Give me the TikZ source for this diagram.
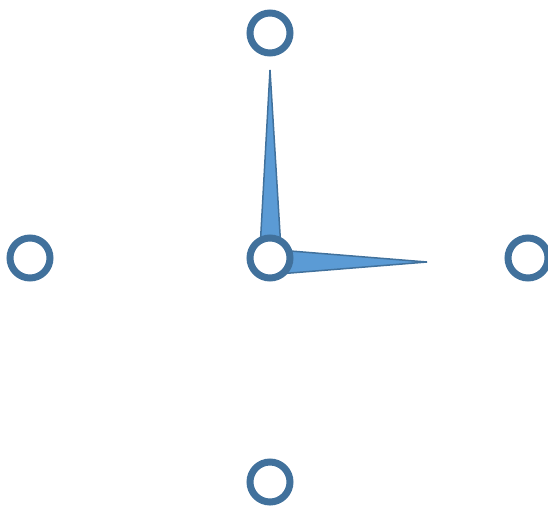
\documentclass[tikz,border=0pt]{standalone}
\begin{document}
\begin{tikzpicture}[x=1pt,y=-1pt]
\definecolor{ringblue}{HTML}{41719C}
\definecolor{handfill}{HTML}{5B9BD5}
\tikzset{
  dot/.style={circle,draw=ringblue,fill=white,line width=7pt,minimum size=40pt,inner sep=0pt},
  hand/.style={draw=ringblue,fill=handfill,line width=1.5pt,line join=miter}
}
\useasboundingbox (0,0) rectangle (548,506);
\coordinate (htip) at (270,70);
\coordinate (rtip) at (427,262);
\draw[hand] (259.5,258) -- (htip) -- (281.5,258) -- cycle;
\draw[hand] (272,249.5) -- (rtip) -- (272,274.5) -- cycle;
\node[dot] (top) at (270,33) {};
\node[dot] (left) at (30,258) {};
\node[dot] (center) at (270,258) {};
\node[dot] (right) at (528,258) {};
\node[dot] (bottom) at (270,482) {};
\end{tikzpicture}
\end{document}
